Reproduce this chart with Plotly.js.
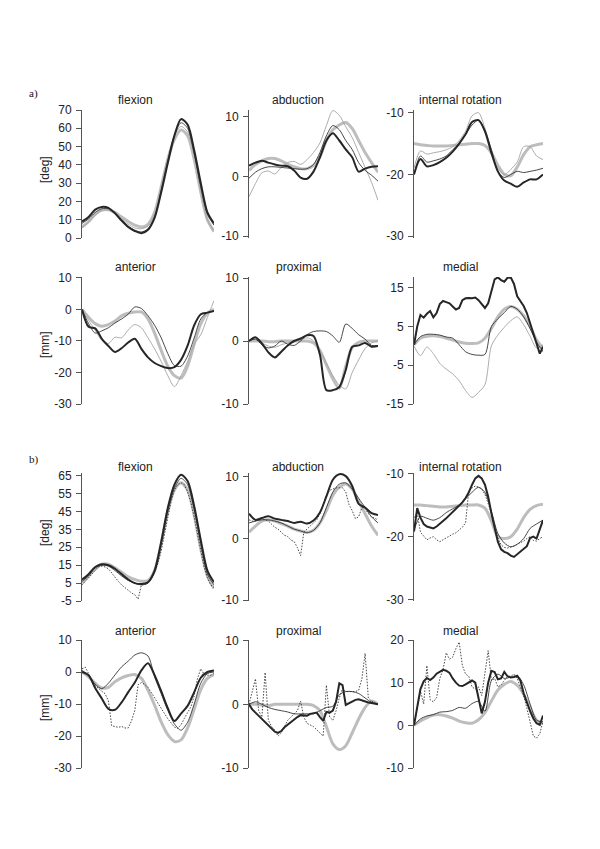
<!DOCTYPE html>
<html>
<head>
<meta charset="utf-8">
<script src="https://cdn.plot.ly/plotly-3.0.1.min.js"></script>
<style>html,body{margin:0;padding:0;background:#fff}#chart{width:600px;height:849px}</style>
</head>
<body>
<div id="chart"></div>
<script>
// % of cycle
const X21 = [0,5,10,15,20,25,30,35,40,45,50,55,60,65,70,75,80,85,90,95,100];
const X41 = [0,2.5,5,7.5,10,12.5,15,17.5,20,22.5,25,27.5,30,32.5,35,37.5,40,42.5,45,47.5,50,52.5,55,57.5,60,62.5,65,67.5,70,72.5,75,77.5,80,82.5,85,87.5,90,92.5,95,97.5,100];

// ---- a) ----
const aFlexGreyThick = [6,9,13,15.3,15.5,14,11.5,9,7,6,7.5,14,28,43,54,59,56,43,25,10,3.5];
const aFlexGreyThin  = [5.5,8.5,12.5,15,15.3,13.5,10.5,7.5,5.5,5,6.5,13,28,44,56,61,58,45,26,10,4];
const aFlexDarkThin  = [8,10.5,14,16,16,13.5,10,6.5,4.3,3.3,5,11.5,26,42,56,63,60,46,28,13,7];
const aFlexDarkThick = [9,11.5,15.5,17,16.5,13.5,9.5,6,3.8,2.6,4.5,11,25,41,56,65,62,48,30,14,8];

const aAbdGreyThick = [1,2,2.6,3,3,2.6,2,1.6,1.3,1.3,1.8,3.3,6,7.8,8.6,9,8,6,4,2.3,0.7];
const aAbdGreyThin  = [-3.4,-1.2,0.6,0.9,0.4,1.5,2.3,2.5,2,2.8,4,5.6,8.5,11,10.2,8.3,6.5,4,1.5,-1,-4];
const aAbdDarkThin  = [-0.3,0.7,1.3,1.6,1.6,1.5,1.4,1.3,1.2,1.3,2,4,6.8,8.5,7.8,6,4.5,2.3,1,0.2,-0.8];
const aAbdDarkThick = [1.8,2.3,2.6,2.3,2,1.8,1.7,1,-0.2,-0.4,0.8,3.2,6,7.2,6,4.5,3.2,0.8,1.3,1.6,1.7];

const aRotGreyThick = [-15,-15.2,-15.3,-15.4,-15.4,-15.4,-15.3,-15.2,-15.1,-15,-15,-15.3,-16.5,-18.5,-20,-20.2,-18.8,-16.8,-15.5,-15.2,-15];
const aRotGreyThin  = [-19,-16.2,-16.7,-16.5,-16.3,-16,-15.5,-14.5,-13,-10.5,-10,-12.5,-16,-19,-20,-19.2,-18,-15.5,-15.5,-17,-17.6];
const aRotDarkThin  = [-20,-17,-18,-17.8,-17.5,-17,-16,-15,-13.5,-12,-11.2,-13,-16,-19.5,-20.5,-20,-19.5,-19.7,-19.5,-19.3,-19];
const aRotDarkThick = [-20,-17.5,-18.7,-18.5,-18,-17.3,-16.3,-15,-13.5,-11.5,-11.2,-13,-16.5,-19.5,-21,-21.5,-22,-21.3,-20.8,-20.8,-20];

const aAntGreyThick = [0,-2.5,-4.5,-5.3,-4.8,-3.7,-2,-1.2,-0.8,-0.8,-3,-7.5,-13,-18,-21,-21.8,-18,-11,-4.5,-1.2,0];
const aAntGreyThin  = [0,-3.5,-6.6,-9.8,-10.8,-8.8,-9,-6.5,-4.8,-5.8,-9,-12.5,-16.5,-21,-24.5,-21,-16.5,-11,-8,-2.5,2.8];
const aAntDarkThin  = [0,-4.5,-7.5,-6.8,-5.8,-4.3,-3,-1.5,0.8,0.3,-2,-5,-9,-14,-17.8,-18,-14.8,-9,-3,-1,-0.5];
const aAntDarkThick = [0,-5.5,-6,-9.3,-11.6,-13.5,-12.3,-10.5,-9.3,-12.5,-15.2,-17,-18,-18.6,-18.3,-16,-11.5,-5,-1.5,-1,-0.5];

const aProxGreyThick = [0,0,0,-0.1,-0.1,0,0,0,0,0,-0.3,-1.5,-3.8,-6,-7.5,-4,-1,-0.2,0,0,0];
const aProxGreyThin  = [0,0.3,-0.3,-0.8,-1,-0.6,-0.3,-0.1,0.2,0.5,0,-1.5,-3.5,-5.5,-7,-7.6,-5,-3,-1.2,-0.3,0];
const aProxDarkThin  = [0,0.3,-0.6,-1.1,-0.8,0,-0.5,-0.7,0,1,1.5,1.6,1.5,0.8,-0.2,2.7,2,1,0.3,-0.7,-0.7];
const aProxDarkThick = [0,0.6,-0.4,-1.8,-2.6,-1.7,-0.7,0,0.4,0.9,0.8,-2.2,-7.8,-7.8,-7.3,-4.6,-0.9,-0.7,-0.3,-0.9,-0.8];

const aMedGreyThick = [0.3,2,2.5,2.6,2.4,2,1.5,1,0.7,0.6,0.8,2,4.5,7.5,9.5,10.2,9.5,7.8,5,1.5,-0.5];
const aMedGreyThin  = [0,-2.5,-0.3,-2,-4.5,-6,-7.2,-9,-11.5,-13.3,-12,-10,0,2.8,4.8,6.5,7.5,5.5,2.5,-0.5,0.3];
const aMedDarkThin  = [0.3,2.4,3,3,2.8,2.3,2,0.3,-1.5,-2.2,-2.4,-2.2,5,7,8.6,10.2,9.5,7.5,4.5,1,-1.5];
const aMedDarkThick = [0.3,5,8,7.3,8.3,9,7.4,8.5,10.8,11.6,11.3,11,10.2,9.4,9.8,11.8,12.3,12.4,12.3,12.5,11.8,10.8,9.8,11,14.3,17.2,17.7,17,16.6,17.6,17.7,16,12.8,11.5,10.3,8.5,6,3,0.4,-2,-0.2];

// ---- b) ----
const bFlexGreyThick = [5,9,13,15.5,15.5,13.5,11,8.5,7,6,6.5,12,27,45,57,61,57,43,24,9,2];
const bFlexDarkThin  = [6,9,13.5,15,14.5,12,9,6.5,5,4,5,11,27,45,58,63.5,60,46,27,10,4];
const bFlexDotted    = [4,6,8,10.5,12.5,14,14.5,14,13,10.5,8.5,6,4,2.5,0.8,-0.5,-1.5,-4,4,4.2,5,7.5,11,16,23,32,42,51,57,60,61,60,56,50,42,32,23,14,8,4,2.5];
const bFlexDarkThick = [7,10,14,15.5,15,13,10,7,5,4.5,5.5,12,28,47,60,65.5,62,48,29,12,5.5];

const bAbdGreyThick = [1,2,2.8,3,2.8,2.4,2,1.5,1.2,1,1.3,2.5,4.5,7,8.3,8.8,8,6,4,2,0.5];
const bAbdDarkThin  = [2.5,2.8,3,3,2.8,2.5,2,1.5,1.2,0.9,1.3,2.5,5,7.5,8.8,9,8,6.5,5,3.5,2.5];
const bAbdDotted    = [3,2.8,2.8,3,3.2,3,2.8,2.3,1.8,1.5,1,0.5,0.3,-0.3,-0.5,-1.5,-2.8,1,1.5,2,2.5,3,4,5.5,7,7.8,8,8.2,8.2,8.2,7.5,5.5,4.5,3.2,3.5,5,4.8,4,3.5,3.2,3];
const bAbdDarkThick = [4,3,3.3,3.6,3.2,3,2.8,2.5,2.7,2.4,2.9,4.2,6.8,9.5,10.4,10.1,8.5,5.6,5,4.1,3.8];

const bRotGreyThick = [-15,-15,-15.1,-15.2,-15.3,-15.3,-15.2,-15.1,-15,-15,-15,-15.5,-17.5,-20,-20.3,-20,-18.8,-17,-15.7,-15.1,-14.9];
const bRotDarkThin  = [-19,-16.8,-17.1,-17.4,-17,-16.2,-15.6,-15,-14,-13,-12.2,-13,-16,-19.5,-21,-21.6,-21.2,-20.3,-18.7,-18,-17.4];
const bRotDotted    = [-17,-16.2,-19.3,-20,-20.5,-20.2,-20,-20.5,-20.8,-20.5,-20.2,-19.8,-19.6,-19.4,-19,-18.5,-17.8,-12.6,-12.3,-12,-12.2,-12.5,-13.3,-14.8,-16.3,-18.6,-20.2,-21.3,-21.7,-21.8,-21.7,-21.5,-21.2,-21,-20.7,-20.3,-20,-20.6,-20.7,-20.3,-20];
const bRotDarkThick = [-19.2,-15.5,-17,-18,-18.4,-18.6,-18.7,-18.4,-18,-17.6,-17.1,-16.6,-16.1,-15.6,-15.1,-14.6,-13.9,-13,-11.8,-10.8,-10.4,-10.8,-11.8,-13.7,-16.3,-18.8,-20.8,-22,-22.4,-22.6,-23,-23.2,-22.8,-22.3,-22,-21.5,-20.2,-20,-20.3,-18.8,-17.4];

const bAntGreyThick = [0,-1.5,-3.5,-5,-4.8,-3,-1.8,-1.1,-0.8,-2,-5.7,-10.4,-15.6,-19.6,-21.7,-21.2,-17.5,-11.6,-5.5,-2,-0.8];
const bAntDarkThin  = [0.5,-1,-3.8,-5.2,-3.5,-0.9,1.6,3.4,5.3,6,5,-1.5,-6.8,-12,-16.2,-18.2,-15.7,-10,-3.5,-0.5,0];
const bAntDotted    = [1,1.5,-0.5,-2.8,-4.3,-5.3,-6,-6.8,-9,-16.8,-17,-17.3,-17,-17.5,-17.5,-15.3,-12,-4,-3.3,-3.9,-4.8,-6.5,-8.3,-10,-11.5,-13,-14.6,-16,-17.2,-17.6,-16.5,-14.5,-12.8,-10.9,-7.5,-2,1,-0.7,-1,-1,-0.5];
const bAntDarkThick = [0,-1,-5,-8.3,-11.5,-11.8,-9.5,-6.3,-3.3,0.5,2.7,-1,-6,-11.3,-15.3,-13,-10.6,-6.3,-1.8,0,0.5];

const bProxGreyThick = [0,0,-0.1,-0.2,0,0,0,0,0,0,-0.2,-1,-3.5,-6.2,-7.1,-6.5,-4.5,-2.3,-0.5,0.5,0];
const bProxDarkThin  = [0,0.4,0,-0.5,-0.8,-1,-1.2,-1.5,-1.5,-1.5,-1.5,-1,-0.5,-0.3,1.5,2,2,1.7,1,0.3,0];
const bProxDotted    = [0,2,4,-1,-2,5,-2.5,-3.5,-4,-5,-4.5,-3.5,-2.5,-2,-1.5,-1,0.5,-2,-3,-3.3,-3.5,-4,-4.5,-5,3,-2,-2.5,-1,1,2.5,2,2,2,2,2.2,4,8,1,0.5,0.2,0];
const bProxDarkThick = [0,-0.8,-1.3,-1.8,-2.3,-2.8,-3.3,-3.8,-4.3,-4.5,-4.2,-3.6,-3.2,-2.7,-2.3,-2,-1.7,-1.8,-1.8,-1.5,-1.4,-1.3,-2,-2.6,-1.2,-1.3,-1,0.4,3.3,3,-0.1,0.2,0.5,0.7,0.8,0.6,0.5,0.3,0.2,0.1,0];

const bMedGreyThick = [0,1,1.8,2.4,2.5,2.2,1.7,1,0.6,0.5,1.3,3,5.7,8.3,9.6,10.3,9.4,7.3,4.1,1.2,0.4];
const bMedDarkThin  = [0,1.5,2.2,2.5,3.1,3.2,3.5,4.2,4,5.1,5.6,3.3,10.5,12,11,11.3,11.6,9.5,5,1.2,0.8];
const bMedDotted    = [0,4,8,5,14,6,5.5,6.5,11,13,17,15.5,16,18,19.5,14,12,11.5,9,8.5,9,7,12,17.5,10.5,11,9,9.5,10.5,11.5,11.5,12,11,9,7,4,1,-2.5,-3,-2,1];
const bMedDarkThick = [0,4.5,8.5,10.3,11.1,10.6,11.2,12.1,12.6,13,12.8,12.3,11,10,9.3,9.2,9.6,10,10.5,10,6.5,2.8,5.5,10,12.8,12.5,10.8,11,12.5,11.5,11.2,11.3,11.6,10.5,7.5,5.2,3.3,1.6,0.5,0.1,2.3];

// tick labels
const tFlexA = [0,10,20,30,40,50,60,70];
const tFlexB = [-5,5,15,25,35,45,55,65];
const tPm10 = [-10,0,10];
const tRot = [-30,-20,-10];
const tAnt = [-30,-20,-10,0,10];
const tMedA = [-15,-5,5,15];
const tMedB = [-10,0,10,20];

const STY = {
  greyThick:{color:'#bdbdbd',width:3},
  greyThin:{color:'#a3a3a3',width:0.9},
  darkThin:{color:'#333',width:0.9},
  dotted:{color:'#333',width:0.9,dash:'1.5px,1.5px'},
  darkThick:{color:'#262626',width:2}
};

const rowsPx = [[110,238],[277,404],[473,601],[640,768]];
const colsPx = [[82,214],[249,378],[414,543]];
const titleX = [135,298,460];
const titleY = [100,267,467,631];

const panels = [
  {t:'flexion',r:0,c:0,range:[0,70],ticks:tFlexA,lines:[['greyThick',aFlexGreyThick],['greyThin',aFlexGreyThin],['darkThin',aFlexDarkThin],['darkThick',aFlexDarkThick]]},
  {t:'abduction',r:0,c:1,range:[-10.3,11.1],ticks:tPm10,lines:[['greyThick',aAbdGreyThick],['greyThin',aAbdGreyThin],['darkThin',aAbdDarkThin],['darkThick',aAbdDarkThick]]},
  {t:'internal rotation',r:0,c:2,range:[-30.3,-9.56],ticks:tRot,lines:[['greyThick',aRotGreyThick],['greyThin',aRotGreyThin],['darkThin',aRotDarkThin],['darkThick',aRotDarkThick]]},
  {t:'anterior',r:1,c:0,range:[-30,10.3],ticks:tAnt,lines:[['greyThick',aAntGreyThick],['greyThin',aAntGreyThin],['darkThin',aAntDarkThin],['darkThick',aAntDarkThick]]},
  {t:'proximal',r:1,c:1,range:[-10,10.16],ticks:tPm10,lines:[['greyThick',aProxGreyThick],['greyThin',aProxGreyThin],['darkThin',aProxDarkThin],['darkThick',aProxDarkThick]]},
  {t:'medial',r:1,c:2,range:[-15,17.8],ticks:tMedA,lines:[['greyThick',aMedGreyThick],['greyThin',aMedGreyThin],['darkThin',aMedDarkThin],['darkThick',aMedDarkThick]]},
  {t:'flexion',r:2,c:0,range:[-5,66.5],ticks:tFlexB,lines:[['greyThick',bFlexGreyThick],['darkThin',bFlexDarkThin],['dotted',bFlexDotted],['darkThick',bFlexDarkThick]]},
  {t:'abduction',r:2,c:1,range:[-10.16,10.6],ticks:tPm10,lines:[['greyThick',bAbdGreyThick],['darkThin',bAbdDarkThin],['dotted',bAbdDotted],['darkThick',bAbdDarkThick]]},
  {t:'internal rotation',r:2,c:2,range:[-30.16,-9.95],ticks:tRot,lines:[['greyThick',bRotGreyThick],['darkThin',bRotDarkThin],['dotted',bRotDotted],['darkThick',bRotDarkThick]]},
  {t:'anterior',r:3,c:0,range:[-30,10],ticks:tAnt,lines:[['greyThick',bAntGreyThick],['darkThin',bAntDarkThin],['dotted',bAntDotted],['darkThick',bAntDarkThick]]},
  {t:'proximal',r:3,c:1,range:[-10,10.1],ticks:tPm10,lines:[['greyThick',bProxGreyThick],['darkThin',bProxDarkThin],['dotted',bProxDotted],['darkThick',bProxDarkThick]]},
  {t:'medial',r:3,c:2,range:[-10,20],ticks:tMedB,lines:[['greyThick',bMedGreyThick],['darkThin',bMedDarkThin],['dotted',bMedDotted],['darkThick',bMedDarkThick]]}
];

const W = 600, H = 849;
const FONT = {family:'Liberation Sans, Arial, sans-serif',size:12,color:'#222'};
const traces = [];
const layout = {width:W,height:H,margin:{l:0,r:0,t:0,b:0},paper_bgcolor:'#fff',plot_bgcolor:'rgba(0,0,0,0)',showlegend:false,font:FONT,annotations:[]};

panels.forEach((p,i)=>{
  const n = i+1, xa = 'x'+(n>1?n:''), ya = 'y'+(n>1?n:'');
  const cx = colsPx[p.c], ry = rowsPx[p.r];
  layout['xaxis'+(n>1?n:'')] = {domain:[cx[0]/W,cx[1]/W],range:[0,100],visible:false,anchor:ya,fixedrange:true};
  layout['yaxis'+(n>1?n:'')] = {domain:[1-ry[1]/H,1-ry[0]/H],range:p.range,anchor:xa,tickvals:p.ticks,ticktext:p.ticks.map(String),
    ticks:'outside',ticklen:5,tickcolor:'#555',showline:true,linecolor:'#555',linewidth:1,showgrid:false,zeroline:false,tickfont:FONT,ticklabelstandoff:2};
  p.lines.forEach(([s,y])=>{
    const jag = y.length>21;
    traces.push({type:'scatter',mode:'lines',x:jag?X41:X21,y,xaxis:xa,yaxis:ya,hoverinfo:'skip',
      line:Object.assign({shape:jag?'linear':'spline',smoothing:0.8},STY[s])});
  });
  layout.annotations.push({text:p.t,xref:'paper',yref:'paper',x:titleX[p.c]/W,y:1-titleY[p.r]/H,xanchor:'center',yanchor:'middle',showarrow:false,font:FONT});
});

[['[deg]',170],['[mm]',345],['[deg]',533],['[mm]',708]].forEach(([t,py])=>{
  layout.annotations.push({text:t,xref:'paper',yref:'paper',x:45/W,y:1-py/H,xanchor:'center',yanchor:'middle',textangle:-90,showarrow:false,font:FONT});
});
[['a)',93],['b)',460]].forEach(([t,py])=>{
  layout.annotations.push({text:t,xref:'paper',yref:'paper',x:27/W,y:1-py/H,xanchor:'left',yanchor:'middle',showarrow:false,font:{family:'Liberation Serif, Times New Roman, serif',size:11,color:'#111'}});
});

Plotly.newPlot('chart',traces,layout,{staticPlot:true});
</script>
</body>
</html>
